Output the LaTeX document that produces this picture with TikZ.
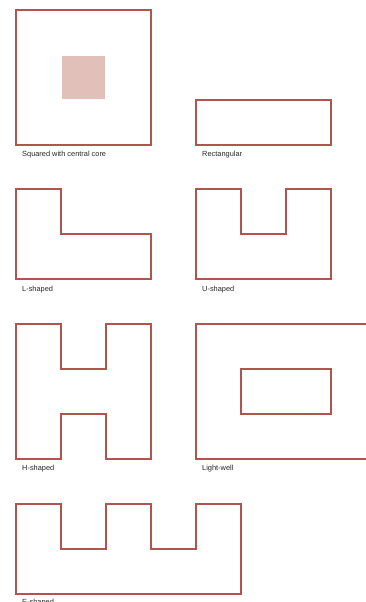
\documentclass[tikz,border=0pt]{standalone}
\usepackage{fontspec}
\setmainfont{Liberation Sans}
\definecolor{wallred}{RGB}{178,84,78}
\definecolor{corefill}{RGB}{224,192,184}
\begin{document}
\begin{tikzpicture}[x=1pt,y=-1pt,
  plan/.style={draw=wallred,line width=2.2pt,line join=miter},
  lbl/.style={anchor=base west,inner sep=0pt,font=\fontsize{7.4}{8.5}\selectfont,text=black!85}]
\useasboundingbox (0,0) rectangle (366,602);
\clip (0,0) rectangle (366,602);
% Squared with central core
\draw[plan] (16,10) rectangle (151,145);
\fill[corefill] (62,56) rectangle (105,99);
\node[lbl] (lsq) at (22,156) {Squared with central core};
% Rectangular
\draw[plan] (196,100) rectangle (331,145);
\node[lbl] (lrect) at (202,156) {Rectangular};
% L-shaped
\draw[plan] (16,189) -- (61,189) -- (61,234) -- (151,234) -- (151,279) -- (16,279) -- cycle;
\node[lbl] (ll) at (22,291) {L-shaped};
% U-shaped
\draw[plan] (196,189) -- (241,189) -- (241,234) -- (286,234) -- (286,189) -- (331,189) -- (331,279) -- (196,279) -- cycle;
\node[lbl] (lu) at (202,291) {U-shaped};
% H-shaped
\draw[plan] (16,324) -- (61,324) -- (61,369) -- (106,369) -- (106,324) -- (151,324) -- (151,459) -- (106,459) -- (106,414) -- (61,414) -- (61,459) -- (16,459) -- cycle;
\node[lbl] (lh) at (22,470) {H-shaped};
% Light-well
\draw[plan] (196,324) -- (380,324) -- (380,459) -- (196,459) -- cycle;
\draw[plan] (241,369) rectangle (331,414);
\node[lbl] (llw) at (202,470) {Light-well};
% E-shaped
\draw[plan] (16,504) -- (61,504) -- (61,549) -- (106,549) -- (106,504) -- (151,504) -- (151,549) -- (196,549) -- (196,504) -- (241,504) -- (241,594) -- (16,594) -- cycle;
\node[lbl] (le) at (22,604) {E-shaped};
\end{tikzpicture}
\end{document}
